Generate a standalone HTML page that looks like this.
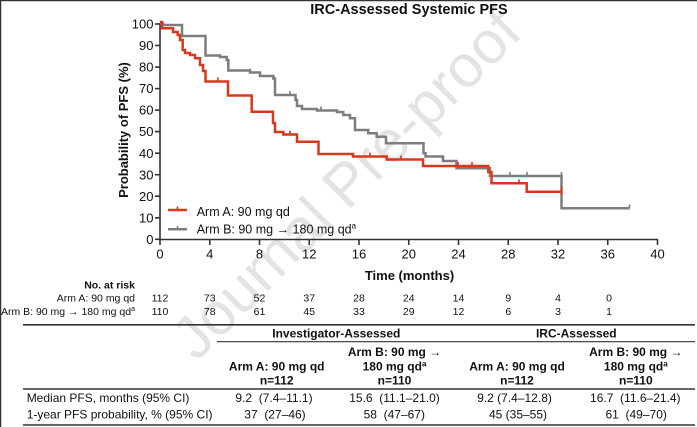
<!DOCTYPE html>
<html><head><meta charset="utf-8">
<style>
html,body{margin:0;padding:0;background:#fff;}
svg{display:block;}
text{font-family:"Liberation Sans",Arial,sans-serif;}
</style></head>
<body>
<svg width="697" height="427" viewBox="0 0 697 427" xmlns="http://www.w3.org/2000/svg">
<rect x="0" y="0" width="697" height="427" fill="#fff"/>
<!-- watermark -->
<text x="346" y="184" font-size="60" fill="#e3e3e3" text-anchor="middle" dominant-baseline="central" transform="rotate(-45 346 184)">Journal Pre-proof</text>
<!-- frame -->
<line x1="0" y1="0.5" x2="697" y2="0.5" stroke="#333" stroke-width="1.5"/>
<line x1="0.5" y1="0" x2="0.5" y2="427" stroke="#333" stroke-width="1.5"/>

<!-- title -->
<text x="409" y="14" font-size="14.5" font-weight="bold" text-anchor="middle" fill="#111">IRC-Assessed Systemic PFS</text>

<!-- y label -->
<text x="128" y="130" font-size="13" font-weight="bold" text-anchor="middle" fill="#111" transform="rotate(-90 128 130)">Probability of PFS (%)</text>

<!-- axes -->
<g stroke="#333" stroke-width="1.6" fill="none">
<line x1="160" y1="23" x2="160" y2="240"/>
<line x1="159.2" y1="239.5" x2="658" y2="239.5"/>
<line x1="155" y1="239.3" x2="160" y2="239.3"/>
<line x1="155" y1="217.8" x2="160" y2="217.8"/>
<line x1="155" y1="196.2" x2="160" y2="196.2"/>
<line x1="155" y1="174.7" x2="160" y2="174.7"/>
<line x1="155" y1="153.2" x2="160" y2="153.2"/>
<line x1="155" y1="131.6" x2="160" y2="131.6"/>
<line x1="155" y1="110.1" x2="160" y2="110.1"/>
<line x1="155" y1="88.6" x2="160" y2="88.6"/>
<line x1="155" y1="67.1" x2="160" y2="67.1"/>
<line x1="155" y1="45.5" x2="160" y2="45.5"/>
<line x1="155" y1="24" x2="160" y2="24"/>
<line x1="160" y1="239.5" x2="160" y2="245"/>
<line x1="209.75" y1="239.5" x2="209.75" y2="245"/>
<line x1="259.5" y1="239.5" x2="259.5" y2="245"/>
<line x1="309.25" y1="239.5" x2="309.25" y2="245"/>
<line x1="359" y1="239.5" x2="359" y2="245"/>
<line x1="408.75" y1="239.5" x2="408.75" y2="245"/>
<line x1="458.5" y1="239.5" x2="458.5" y2="245"/>
<line x1="508.25" y1="239.5" x2="508.25" y2="245"/>
<line x1="558" y1="239.5" x2="558" y2="245"/>
<line x1="607.75" y1="239.5" x2="607.75" y2="245"/>
<line x1="657.5" y1="239.5" x2="657.5" y2="245"/>
</g>
<g font-size="13" fill="#111" text-anchor="end">
<text x="153.5" y="243.9">0</text>
<text x="153.5" y="222.4">10</text>
<text x="153.5" y="200.8">20</text>
<text x="153.5" y="179.3">30</text>
<text x="153.5" y="157.8">40</text>
<text x="153.5" y="136.2">50</text>
<text x="153.5" y="114.7">60</text>
<text x="153.5" y="93.2">70</text>
<text x="153.5" y="71.7">80</text>
<text x="153.5" y="50.1">90</text>
<text x="153.5" y="28.6">100</text>
</g>
<g font-size="13" fill="#111" text-anchor="middle">
<text x="160" y="258.3">0</text>
<text x="209.75" y="258.3">4</text>
<text x="259.5" y="258.3">8</text>
<text x="309.25" y="258.3">12</text>
<text x="359" y="258.3">16</text>
<text x="408.75" y="258.3">20</text>
<text x="458.5" y="258.3">24</text>
<text x="508.25" y="258.3">28</text>
<text x="558" y="258.3">32</text>
<text x="607.75" y="258.3">36</text>
<text x="657.5" y="258.3">40</text>
</g>
<text x="409.5" y="280" font-size="13" font-weight="bold" text-anchor="middle" fill="#111">Time (months)</text>

<!-- curves -->
<path d="M160,23.5 H163 V25 H182 V36 H205.5 V55.5 H220 V57 H226.7 V60 H228.3 V70.5 H250 V72.5 H260 V76 H273.3 V78.5 H275 V95 H295.5 V100 H297 V106 H302 V109 H317 V110.5 H337 V112 H343.3 V115 H350 V118.3 H355 V130 H368.3 V133.3 H376.7 V136.7 H386 V143.3 H423.5 V153.3 H425.5 V156.5 H443 V161 H456.5 V168.3 H490 V176 H561.5 V208.3 H629.5" fill="none" stroke="#7d7d7d" stroke-width="2.5"/>
<g stroke="#7d7d7d" stroke-width="1.6">
<line x1="250" y1="68.5" x2="250" y2="72.5"/>
<line x1="290" y1="91" x2="290" y2="95"/>
<line x1="321" y1="106.5" x2="321" y2="110.5"/>
<line x1="510" y1="172" x2="510" y2="176"/>
<line x1="527" y1="172" x2="527" y2="176"/>
<line x1="561.5" y1="172" x2="561.5" y2="176"/>
<line x1="629.5" y1="204.5" x2="629.5" y2="208.3"/>
</g>
<path d="M160,22 H162 V28.3 H173 V32 H177.7 V35 H180 V40 H182.7 V50 H185 V53 H190 V55 H195 V58.3 H200 V65 H203 V71 H205.5 V81.5 H228 V95.5 H251.7 V111.7 H273 V123 H275 V132 H283.3 V134.5 H297 V141.7 H318.5 V154 H353 V156.5 H386.7 V159.5 H423 V166 H488.3 V172 H491.5 V183.3 H526.7 V191.7 H561.5" fill="none" stroke="#d6391d" stroke-width="2.5"/>
<g stroke="#d6391d" stroke-width="1.6">
<line x1="218" y1="77.5" x2="218" y2="81.5"/>
<line x1="290" y1="130.5" x2="290" y2="134.5"/>
<line x1="370" y1="152.5" x2="370" y2="156.5"/>
<line x1="401" y1="155.5" x2="401" y2="159.5"/>
<line x1="458" y1="162" x2="458" y2="166"/>
<line x1="472" y1="162" x2="472" y2="166"/>
<line x1="519" y1="179.3" x2="519" y2="183.3"/>
<line x1="561.5" y1="186.5" x2="561.5" y2="195"/>
</g>

<!-- legend -->
<line x1="168" y1="210" x2="187" y2="210" stroke="#d6391d" stroke-width="2.5"/>
<line x1="177.5" y1="206.5" x2="177.5" y2="210" stroke="#d6391d" stroke-width="1.6"/>
<line x1="168" y1="229.3" x2="187" y2="229.3" stroke="#7d7d7d" stroke-width="2.5"/>
<line x1="177.5" y1="225.8" x2="177.5" y2="229.3" stroke="#7d7d7d" stroke-width="1.6"/>
<text x="196.7" y="216" font-size="12.5" fill="#111">Arm A: 90 mg qd</text>
<text x="196.7" y="233.5" font-size="12.5" fill="#111">Arm B: 90 mg → 180 mg qd<tspan font-size="8" dy="-5">a</tspan></text>

<!-- number at risk -->
<text x="135" y="288.3" font-size="10.5" font-weight="bold" text-anchor="end" fill="#111">No. at risk</text>
<text x="135" y="301.7" font-size="10.5" text-anchor="end" fill="#111">Arm A: 90 mg qd</text>
<text x="135" y="315" font-size="10.5" text-anchor="end" fill="#111">Arm B: 90 mg → 180 mg qd<tspan font-size="7" dy="-4">a</tspan></text>
<g font-size="10.5" fill="#111" text-anchor="middle">
<text x="160" y="301.7">112</text>
<text x="209.75" y="301.7">73</text>
<text x="259.5" y="301.7">52</text>
<text x="309.25" y="301.7">37</text>
<text x="359" y="301.7">28</text>
<text x="408.75" y="301.7">24</text>
<text x="458.5" y="301.7">14</text>
<text x="508.25" y="301.7">9</text>
<text x="558" y="301.7">4</text>
<text x="609" y="301.7">0</text>
<text x="160" y="315">110</text>
<text x="209.75" y="315">78</text>
<text x="259.5" y="315">61</text>
<text x="309.25" y="315">45</text>
<text x="359" y="315">33</text>
<text x="408.75" y="315">29</text>
<text x="458.5" y="315">12</text>
<text x="508.25" y="315">6</text>
<text x="558" y="315">3</text>
<text x="609" y="315">1</text>
</g>

<!-- table -->
<g stroke="#333">
<line x1="23" y1="324.8" x2="695" y2="324.8" stroke-width="1.6"/>
<line x1="217" y1="341.7" x2="695" y2="341.7" stroke-width="1.2"/>
<line x1="23" y1="389" x2="695" y2="389" stroke-width="1.4"/>
<line x1="23" y1="425" x2="695" y2="425" stroke-width="1.6"/>
</g>
<g font-size="12" font-weight="bold" fill="#111" text-anchor="middle">
<text x="336.3" y="337.3">Investigator-Assessed</text>
<text x="576.3" y="337.3">IRC-Assessed</text>
<text x="276.7" y="370.3">Arm A: 90 mg qd</text>
<text x="276.7" y="384.3">n=112</text>
<text x="394.5" y="356">Arm B: 90 mg →</text>
<text x="394.5" y="370.3">180 mg qd<tspan font-size="8" dy="-4">a</tspan></text>
<text x="394.5" y="384.3">n=110</text>
<text x="517" y="370.3">Arm A: 90 mg qd</text>
<text x="517" y="384.3">n=112</text>
<text x="635.8" y="356">Arm B: 90 mg →</text>
<text x="635.8" y="370.3">180 mg qd<tspan font-size="8" dy="-4">a</tspan></text>
<text x="635.8" y="384.3">n=110</text>
</g>
<g font-size="12" fill="#111">
<text x="26.7" y="402">Median PFS, months (95% CI)</text>
<text x="26.7" y="418.5">1-year PFS probability, % (95% CI)</text>
</g>
<g font-size="12" fill="#111" text-anchor="middle" style="white-space:pre">
<text x="274" y="402" xml:space="preserve">9.2  (7.4–11.1)</text>
<text x="394.5" y="402" xml:space="preserve">15.6  (11.1–21.0)</text>
<text x="514.5" y="402" xml:space="preserve">9.2 (7.4–12.8)</text>
<text x="635.3" y="402" xml:space="preserve">16.7  (11.6–21.4)</text>
<text x="275" y="418.5" xml:space="preserve">37  (27–46)</text>
<text x="394.3" y="418.5" xml:space="preserve">58  (47–67)</text>
<text x="518" y="418.5" xml:space="preserve">45 (35–55)</text>
<text x="636.2" y="418.5" xml:space="preserve">61  (49–70)</text>
</g>
</svg>
</body></html>
